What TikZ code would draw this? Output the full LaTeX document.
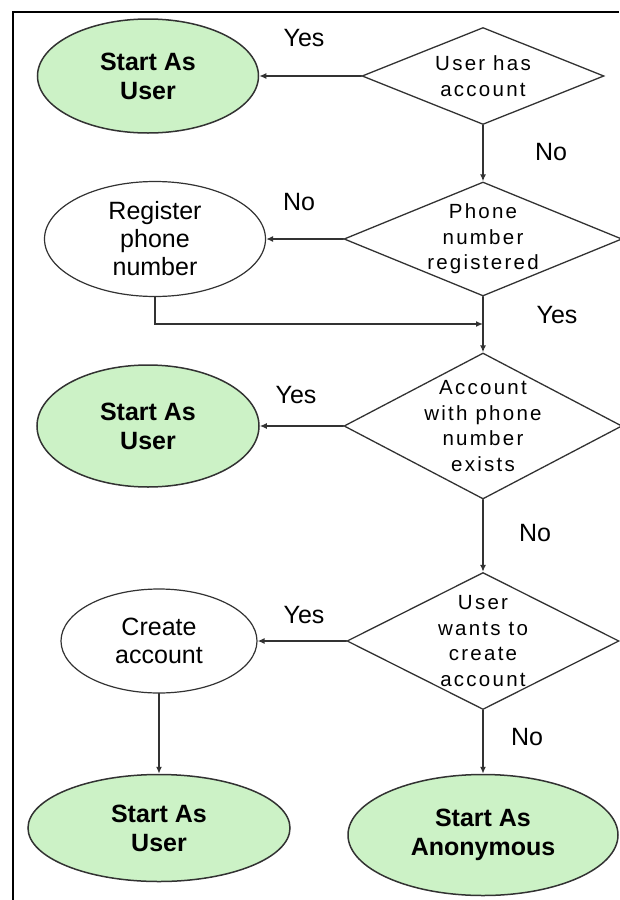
\documentclass[tikz,border=0pt]{standalone}
\usepackage{fontspec}
\setmainfont{Liberation Sans}
\usetikzlibrary{shapes.geometric,arrows.meta}

\definecolor{startgreen}{RGB}{204,242,198}
\definecolor{linegray}{RGB}{50,50,50}

\tikzset{
  flow/.style={draw=linegray, line width=1.6pt, line cap=round,
    -{Latex[length=7pt,width=6pt]}},
  startnode/.style={ellipse, draw=linegray, line width=1.5pt, fill=startgreen,
    inner sep=0pt, align=center, font=\fontsize{25}{29}\selectfont\bfseries},
  stepnode/.style={ellipse, draw=linegray, line width=1.2pt, fill=white,
    inner sep=0pt, align=center, font=\fontsize{25}{28}\selectfont},
  decision/.style={diamond, draw=linegray, line width=1.3pt, inner sep=0pt},
  dtext/.style={align=center, inner sep=0pt,
    font=\fontsize{20.5}{25.5}\selectfont\addfontfeatures{LetterSpace=11}},
  answer/.style={font=\fontsize{25}{29}\selectfont}
}

\begin{document}
\begin{tikzpicture}[x=1pt,y=-1pt]
  \useasboundingbox (0,0) rectangle (619,900);
  % frame
  \draw[line width=1.8pt] (13,900) -- (13,12) -- (619,12);

  % decisions
  \node[decision, minimum width=242pt, minimum height=97pt]  (d1) at (483,76)  {};
  \node[decision, minimum width=278pt, minimum height=114pt] (d2) at (483,239) {};
  \node[decision, minimum width=278pt, minimum height=146pt] (d3) at (483,426) {};
  \node[decision, minimum width=272pt, minimum height=137pt] (d4) at (483,641) {};
  \node[dtext] (t1) at (d1) {User has\\account};
  \node[dtext] (t2) at (d2) {Phone\\number\\registered};
  \node[dtext] (t3) at (d3) {Account\\with phone\\number\\exists};
  \node[dtext] (t4) at (d4) {User\\wants to\\create\\account};

  % outcomes
  \node[startnode, minimum width=221pt, minimum height=114pt] (su1) at (148,76) {Start As\\User};
  \node[stepnode, minimum width=221pt, minimum height=115pt] (reg) at (155,239) {Register\\phone\\number};
  \node[startnode, minimum width=222pt, minimum height=122pt] (su2) at (148,426) {Start As\\User};
  \node[stepnode, minimum width=196pt, minimum height=104pt] (cre) at (159,641) {Create\\account};
  \node[startnode, minimum width=262pt, minimum height=107pt] (su3) at (159,828) {Start As\\User};
  \node[startnode, minimum width=270pt, minimum height=121pt] (anon) at (483,835) {Start As\\Anonymous};

  \coordinate (join) at (483,324);

  % connectors
  \draw[flow] (d1.west) -- (su1.east);
  \draw[flow] (d1.south) -- (d2.north);
  \draw[flow] (d2.west) -- (reg.east);
  \draw[flow] (d2.south) -- (d3.north);
  \draw[flow] (reg.south) |- (join);
  \draw[flow] (d3.west) -- (su2.east);
  \draw[flow] (d3.south) -- (d4.north);
  \draw[flow] (d4.west) -- (cre.east);
  \draw[flow] (cre.south) -- (su3.north);
  \draw[flow] (d4.south) -- (anon.north);

  % answers
  \node[answer] (a1) at (304,38)  {Yes};
  \node[answer] (a2) at (551,152) {No};
  \node[answer] (a3) at (299,202) {No};
  \node[answer] (a4) at (557,315) {Yes};
  \node[answer] (a5) at (296,395) {Yes};
  \node[answer] (a6) at (535,533) {No};
  \node[answer] (a7) at (304,615) {Yes};
  \node[answer] (a8) at (527,737) {No};
\end{tikzpicture}
\end{document}
